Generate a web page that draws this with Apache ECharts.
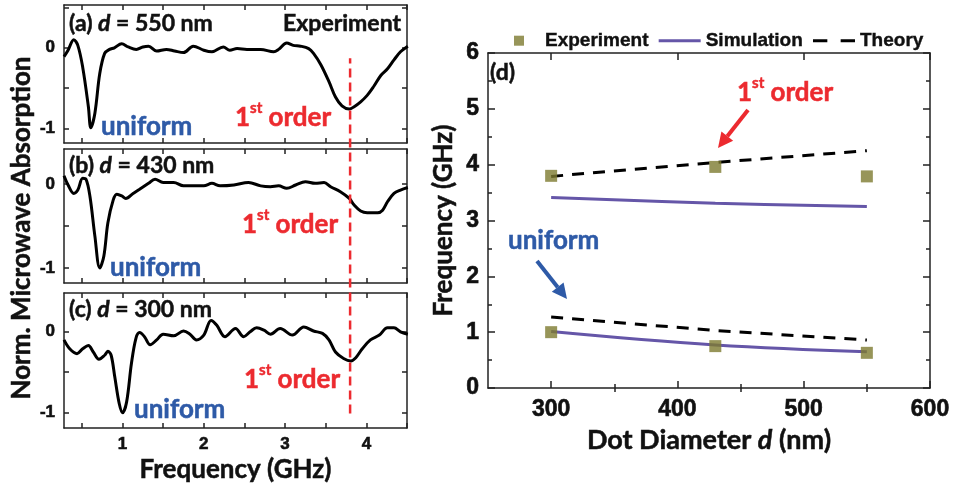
<!DOCTYPE html>
<html>
<head>
<meta charset="utf-8">
<script src="https://cdn.jsdelivr.net/npm/echarts@6/dist/echarts.min.js"></script>
<style>
html,body{margin:0;padding:0;background:#fff;}
#main{width:966px;height:488px;}
</style>
</head>
<body>
<div id="main"></div>
<script>
// ---- spectra, panel (a) d = 550 nm
var freqA = [0.28,0.33,0.40,0.45,0.51,0.58,0.61,0.66,0.72,0.78,0.84,0.90,0.99,1.07,1.17,1.25,1.32,1.42,1.54,1.64,1.75,1.87,2.00,2.10,2.24,2.32,2.41,2.53,2.70,2.86,2.92,3.02,3.10,3.19,3.29,3.35,3.44,3.54,3.62,3.70,3.79,3.85,3.93,4.01,4.09,4.18,4.26,4.34,4.42,4.51];
var absA  = [-0.11,-0.03,0.10,0.03,-0.24,-0.73,-0.99,-0.81,-0.32,-0.07,-0.02,0.00,0.05,0.01,-0.02,0.01,0.02,-0.04,-0.02,-0.04,-0.06,0.02,-0.03,-0.05,0.01,-0.03,-0.01,-0.02,-0.02,-0.05,-0.02,0.06,0.03,0.02,-0.01,-0.07,-0.21,-0.42,-0.61,-0.72,-0.76,-0.73,-0.67,-0.59,-0.48,-0.34,-0.26,-0.15,-0.05,0.02];
// ---- panel (b) d = 430 nm
var freqB = [0.28,0.33,0.40,0.45,0.51,0.55,0.60,0.66,0.72,0.77,0.82,0.885,0.93,0.99,1.04,1.13,1.21,1.32,1.40,1.50,1.63,1.75,1.87,2.00,2.10,2.20,2.37,2.55,2.70,2.82,2.92,3.02,3.13,3.25,3.37,3.48,3.56,3.68,3.79,3.85,3.93,4.01,4.14,4.20,4.26,4.34,4.42,4.51];
var absB  = [0.10,-0.01,-0.11,-0.07,0.07,0.06,-0.15,-0.62,-1.00,-0.86,-0.46,-0.19,-0.12,-0.14,-0.17,-0.11,-0.06,0.01,0.06,0.02,0.02,-0.02,-0.02,-0.02,0.01,-0.02,-0.01,0.02,-0.02,-0.03,-0.02,-0.05,-0.01,0.03,0.01,0.02,-0.03,-0.09,-0.17,-0.25,-0.32,-0.34,-0.34,-0.31,-0.21,-0.11,-0.07,-0.04];
// ---- panel (c) d = 300 nm
var freqC = [0.28,0.35,0.44,0.51,0.58,0.64,0.71,0.78,0.82,0.86,0.905,0.96,1.00,1.05,1.11,1.165,1.21,1.27,1.34,1.42,1.50,1.63,1.75,1.83,1.91,2.00,2.09,2.16,2.26,2.39,2.49,2.57,2.65,2.74,2.82,2.94,3.09,3.23,3.35,3.46,3.54,3.62,3.72,3.81,3.87,3.95,4.05,4.16,4.26,4.34,4.42,4.51];
var absC  = [-0.10,-0.21,-0.27,-0.21,-0.17,-0.25,-0.34,-0.29,-0.24,-0.29,-0.56,-0.89,-1.00,-0.87,-0.39,-0.08,-0.01,-0.06,-0.16,-0.10,-0.03,-0.05,0.01,-0.03,-0.10,-0.04,0.14,0.08,-0.06,0.04,-0.06,0.00,0.05,0.02,-0.03,0.04,-0.04,0.06,0.01,-0.02,-0.10,-0.25,-0.33,-0.36,-0.32,-0.21,-0.10,-0.04,0.05,0.05,0.00,-0.03];

var freqTicks = [0.5,1,1.5,2,2.5,3,3.5,4,4.5];
var freqLabels = [1,2,3,4];
var absTicks = [-1,-0.5,0,0.5];
var absLabels = [-1,0];

// first order marker line (GHz) and its vertical span across the three panels (0..1)
var firstOrderFreq = 3.8;
var firstOrderSpan = [0.034, 0.874];

// ---- panel (d)
var diameters = [300, 430, 550];
var expFirst = [3.80, 3.96, 3.79];
var expUniform = [1.00, 0.75, 0.63];
var simFirst = [3.41, 3.31, 3.25];
var simUniform = [1.01, 0.77, 0.65];
var theoFirst = [3.79, 4.04, 4.25];
var theoUniform = [1.27, 1.03, 0.86];
var dMajor = [300, 400, 500, 600];
var dMinor = [350, 450, 550];

var RED = '#ec2a2f', BLUE = '#2e5aa7', OLIVE = '#7d7a30', PURPLE = '#6556a8';
var NUM = "'Liberation Sans', Arial, sans-serif";
var TXT = "Lato, 'Open Sans', sans-serif";

var myChart = echarts.init(document.getElementById('main'));

var panels = [
  {top: 5,   height: 138, min: -1.18, max: 0.53, x: freqA, y: absA},
  {top: 149, height: 134, min: -1.18, max: 0.42, x: freqB, y: absB},
  {top: 293, height: 135, min: -1.19, max: 0.48, x: freqC, y: absC}
];

var grids = [], xAxes = [], yAxes = [], series = [];
var axLine = {show: true, onZero: false, lineStyle: {color: '#222', width: 1.5}};
var tickStyle = {color: '#222', width: 1.5};
var numLabel = {color: '#111', fontFamily: NUM, fontWeight: 'bold', textBorderColor: '#111', textBorderWidth: 0.6};
function numStyle(size, margin) {
  return Object.assign({fontSize: size, margin: margin}, numLabel);
}
var nameStyle = {fontFamily: TXT, fontWeight: 'bold', fontSize: 26, color: '#111', textBorderColor: '#111', textBorderWidth: 0.5};

panels.forEach(function (p, i) {
  grids.push({left: 64, top: p.top, width: 343, height: p.height});
  var last = (i == panels.length - 1);
  xAxes.push({
    type: 'value', gridIndex: i, min: 0.28, max: 4.5, position: 'bottom',
    axisLine: axLine, splitLine: {show: false},
    axisTick: {show: true, inside: true, length: 5, customValues: freqTicks, lineStyle: tickStyle},
    axisLabel: Object.assign({show: last, customValues: freqLabels}, numStyle(17, 8)),
    name: last ? 'Frequency (GHz)' : '', nameLocation: 'middle', nameGap: 29,
    nameTextStyle: nameStyle
  });
  xAxes.push({
    type: 'value', gridIndex: i, min: 0.28, max: 4.5, position: 'top',
    axisLine: axLine, splitLine: {show: false}, axisLabel: {show: false},
    axisTick: {show: true, inside: true, length: 5, customValues: freqTicks, lineStyle: tickStyle}
  });
  yAxes.push({
    type: 'value', gridIndex: i, min: p.min, max: p.max, position: 'left',
    axisLine: axLine, splitLine: {show: false},
    axisTick: {show: true, inside: true, length: 5, customValues: absTicks, lineStyle: tickStyle},
    axisLabel: Object.assign({customValues: absLabels}, numStyle(17, 9))
  });
  yAxes.push({
    type: 'value', gridIndex: i, min: p.min, max: p.max, position: 'right',
    axisLine: axLine, splitLine: {show: false}, axisLabel: {show: false},
    axisTick: {show: true, inside: true, length: 5, customValues: absTicks, lineStyle: tickStyle}
  });
  var data = p.x.map(function (f, k) { return [f, p.y[k]]; });
  series.push({
    type: 'line', xAxisIndex: i * 2, yAxisIndex: i * 2, data: data,
    smooth: 0.35, showSymbol: false, symbol: 'none',
    lineStyle: {color: '#000', width: 3}, silent: true
  });
});

// overlay grid for the red dashed line spanning the left panels
grids.push({left: 64, top: 5, width: 343, height: 423});
xAxes.push({type: 'value', gridIndex: 3, min: 0.28, max: 4.5, show: false});
yAxes.push({type: 'value', gridIndex: 3, min: 0, max: 1, show: false});
series.push({
  type: 'line', xAxisIndex: 6, yAxisIndex: 6, symbol: 'none', silent: true, z: 5,
  data: [[firstOrderFreq, firstOrderSpan[0]], [firstOrderFreq, firstOrderSpan[1]]],
  lineStyle: {color: RED, width: 2.5, type: [9, 5]}
});

// panel (d)
grids.push({left: 488, top: 53, width: 442, height: 335});
var dNameStyle = Object.assign({}, nameStyle, {fontSize: 27});
xAxes.push({
  type: 'value', gridIndex: 4, min: 250, max: 600, position: 'bottom',
  axisLine: axLine, splitLine: {show: false},
  axisTick: {inside: true, length: 7, customValues: dMajor, lineStyle: tickStyle},
  axisLabel: Object.assign({customValues: dMajor}, numStyle(23, 10)),
  name: '{a|Dot Diameter }{i|d}{a| (nm)}', nameLocation: 'middle', nameGap: 36,
  nameTextStyle: {rich: {
    a: dNameStyle,
    i: Object.assign({}, dNameStyle, {fontStyle: 'italic'})
  }}
});
xAxes.push({
  type: 'value', gridIndex: 4, min: 250, max: 600, position: 'top',
  axisLine: axLine, splitLine: {show: false}, axisLabel: {show: false},
  axisTick: {inside: true, length: 7, customValues: dMajor, lineStyle: tickStyle}
});
xAxes.push({
  type: 'value', gridIndex: 4, min: 250, max: 600, position: 'bottom',
  axisLine: {show: false}, splitLine: {show: false}, axisLabel: {show: false},
  axisTick: {inside: true, length: 4, customValues: dMinor, lineStyle: tickStyle}
});
xAxes.push({
  type: 'value', gridIndex: 4, min: 250, max: 600, position: 'top',
  axisLine: {show: false}, splitLine: {show: false}, axisLabel: {show: false},
  axisTick: {inside: true, length: 4, customValues: dMinor, lineStyle: tickStyle}
});
yAxes.push({
  type: 'value', gridIndex: 4, min: 0, max: 6, interval: 1, position: 'left',
  axisLine: axLine, splitLine: {show: false},
  axisTick: {inside: true, length: 7, lineStyle: tickStyle},
  minorTick: {show: true, splitNumber: 2, length: 4, lineStyle: tickStyle},
  axisLabel: numStyle(23, 9),
  name: 'Frequency (GHz)', nameLocation: 'middle', nameGap: 31,
  nameTextStyle: nameStyle
});
yAxes.push({
  type: 'value', gridIndex: 4, min: 0, max: 6, interval: 1, position: 'right',
  axisLine: axLine, splitLine: {show: false}, axisLabel: {show: false},
  axisTick: {inside: true, length: 7, lineStyle: tickStyle},
  minorTick: {show: true, splitNumber: 2, length: 4, lineStyle: tickStyle}
});

function pairs(xs, ys) { return xs.map(function (x, k) { return [x, ys[k]]; }); }
var xi = 7, yi = 7;
[simFirst, simUniform].forEach(function (arr) {
  series.push({name: 'Simulation', type: 'line', xAxisIndex: xi, yAxisIndex: yi, data: pairs(diameters, arr),
    smooth: 0.4, symbol: 'none', showSymbol: false, lineStyle: {color: PURPLE, width: 3}, itemStyle: {color: PURPLE}});
});
[theoFirst, theoUniform].forEach(function (arr) {
  series.push({name: 'Theory', type: 'line', xAxisIndex: xi, yAxisIndex: yi, data: pairs(diameters, arr),
    symbol: 'none', showSymbol: false, lineStyle: {color: '#000', width: 3, type: [12, 9]}, itemStyle: {color: '#000'}});
});
[expFirst, expUniform].forEach(function (arr) {
  series.push({name: 'Experiment', type: 'scatter', xAxisIndex: xi, yAxisIndex: yi, data: pairs(diameters, arr),
    symbol: 'rect', symbolSize: 12, itemStyle: {color: OLIVE}, z: 4});
});

// text annotations
function lbl(x, y, rich, text, align, rot) {
  return {type: 'text', x: x, y: y, z: 100, silent: true, rotation: rot || 0,
    style: {text: text, rich: rich, align: align || 'left', verticalAlign: 'middle'}};
}
function tstyle(size, color, extra) {
  return Object.assign({fontFamily: TXT, fontWeight: 'bold', fontSize: size, fill: color, stroke: color, lineWidth: 0.5}, extra || {});
}
var panelRich = {
  n: tstyle(23, '#111'),
  i: tstyle(23, '#111', {fontStyle: 'italic'})
};
var orderRich = {
  n: tstyle(26, RED, {lineHeight: 30, verticalAlign: 'bottom'}),
  s: tstyle(15, RED, {lineHeight: 17, verticalAlign: 'top'})
};
var uniRich = {u: tstyle(26, BLUE)};
var axisRich = {n: tstyle(26, '#111')};
var orderText = '{n|1}{s|st}{n| order}';

var graphics = [
  lbl(22, 228, axisRich, '{n|Norm. Microwave Absorption}', 'center', Math.PI / 2),
  lbl(69, 24, panelRich, '{n|(a) }{i|d}{n| = 550 nm}'),
  lbl(401, 24, panelRich, '{n|Experiment}', 'right'),
  lbl(69, 166, panelRich, '{n|(b) }{i|d}{n| = 430 nm}'),
  lbl(69, 310, panelRich, '{n|(c) }{i|d}{n| = 300 nm}'),
  lbl(235, 116, orderRich, orderText),
  lbl(242, 223, orderRich, orderText),
  lbl(244, 378, orderRich, orderText),
  lbl(101, 127, uniRich, '{u|uniform}'),
  lbl(110, 268, uniRich, '{u|uniform}'),
  lbl(134, 410, uniRich, '{u|uniform}'),
  lbl(490, 73, panelRich, '{n|(d)}'),
  lbl(737, 91, orderRich, orderText),
  lbl(508, 241, uniRich, '{u|uniform}')
];

function arrow(x1, y1, x2, y2, color) {
  var a = Math.atan2(y2 - y1, x2 - x1);
  var L = 15, H = 7.5;
  var bx = x2 - L * Math.cos(a), by = y2 - L * Math.sin(a);
  var nx = -Math.sin(a), ny = Math.cos(a);
  return [
    {type: 'line', z: 100, shape: {x1: x1, y1: y1, x2: bx, y2: by}, style: {stroke: color, lineWidth: 4}},
    {type: 'polygon', z: 100, shape: {points: [[x2, y2], [bx + nx * H, by + ny * H], [bx - nx * H, by - ny * H]]}, style: {fill: color}}
  ];
}
graphics = graphics.concat(arrow(748, 110, 718, 148, RED), arrow(537, 261, 567, 299, BLUE));

var option = {
  backgroundColor: '#fff',
  animation: false,
  grid: grids,
  xAxis: xAxes,
  yAxis: yAxes,
  legend: {
    data: [
      {name: 'Experiment', icon: 'path://M0,0h10v10h-10z'},
      {name: 'Simulation', icon: 'path://M0,0h42v3h-42z'},
      {name: 'Theory', icon: 'path://M0,0h14v3h-14z M27,0h14v3h-14z'}
    ],
    left: 509, top: 26, itemWidth: 42, itemHeight: 10, itemGap: 10,
    textStyle: {fontFamily: NUM, fontWeight: 'bold', fontSize: 19, color: '#111', textBorderColor: '#111', textBorderWidth: 0.4}
  },
  series: series,
  graphic: graphics
};
myChart.setOption(option);
</script>
</body>
</html>
